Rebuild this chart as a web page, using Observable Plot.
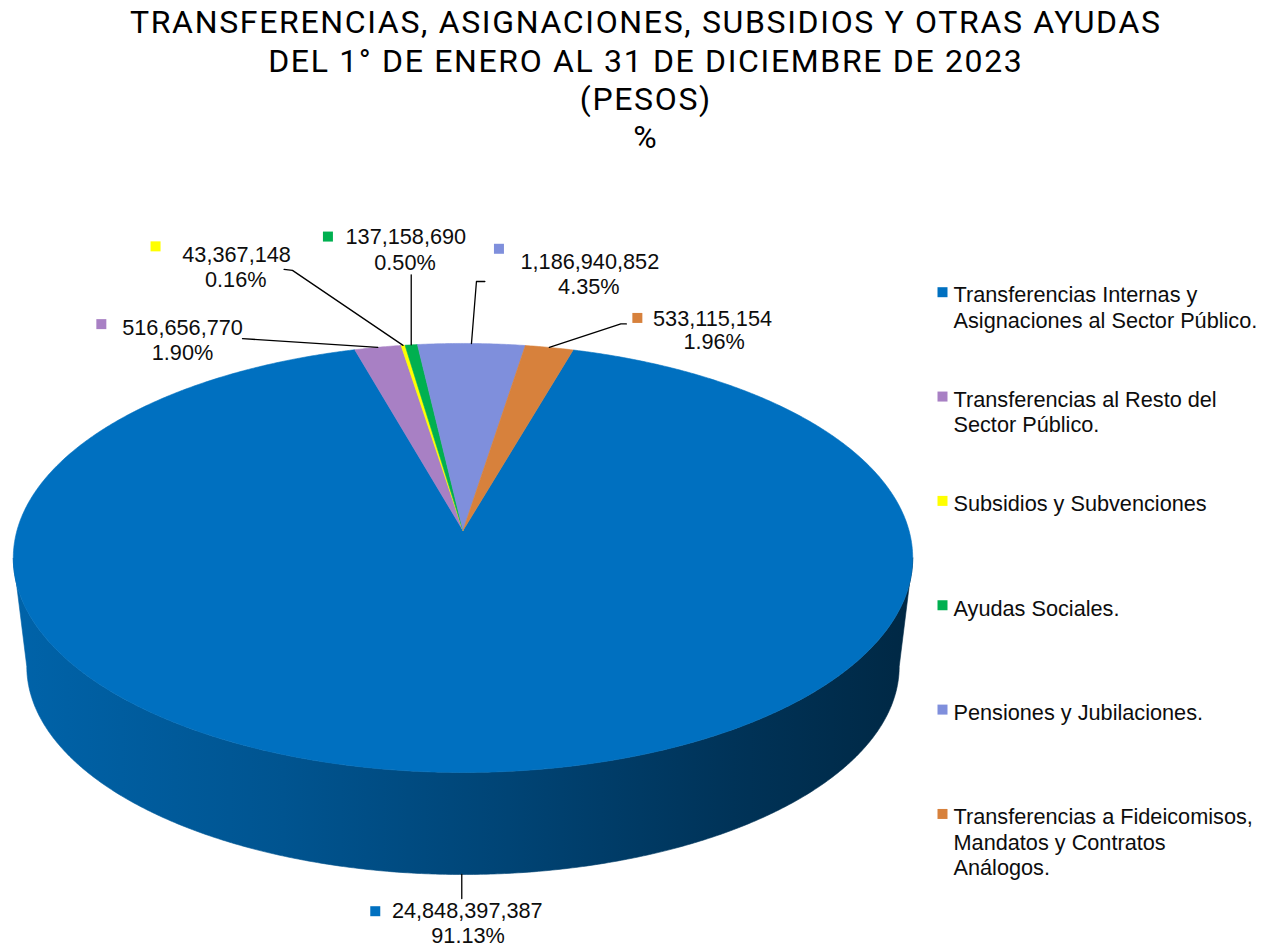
<!DOCTYPE html>
<html><head><meta charset="utf-8">
<script src="https://cdn.jsdelivr.net/npm/d3@7"></script>
<script src="https://cdn.jsdelivr.net/npm/@observablehq/plot@0.6"></script>
<style>
html,body{margin:0;padding:0;background:#fff;}
#wrap{position:relative;width:1269px;height:947px;overflow:hidden;background:#fff;}
#title{position:absolute;left:0;top:0;width:1290px;height:150px;font-family:"Liberation Sans Narrow","Roboto",sans-serif;font-size:32px;color:#000;}
#title div{position:absolute;left:0;width:100%;text-align:center;white-space:nowrap;line-height:32px;}
#chart{position:absolute;left:0;top:150px;}
#chart text{font-family:"Liberation Sans", Arial, sans-serif;}
</style></head>
<body><div id="wrap"><div id="title"></div><div id="chart"></div></div>
<script>
// ---- data ----
const titleLines = [
  "TRANSFERENCIAS, ASIGNACIONES, SUBSIDIOS Y OTRAS AYUDAS",
  "DEL 1° DE ENERO AL 31 DE DICIEMBRE DE 2023",
  "(PESOS)",
  "%"
];
const categories = [
  "Transferencias Internas y\nAsignaciones al Sector Público.",
  "Transferencias al Resto del\nSector Público.",
  "Subsidios y Subvenciones",
  "Ayudas Sociales.",
  "Pensiones y Jubilaciones.",
  "Transferencias a Fideicomisos,\nMandatos y Contratos\nAnálogos."
];
const values = [24848397387, 516656770, 43367148, 137158690, 1186940852, 533115154];
const percentLabels = ["91.13%", "1.90%", "0.16%", "0.50%", "4.35%", "1.96%"];
const colors = ["#0070c0", "#a880c4", "#ffff00", "#00b050", "#7f8fdc", "#d7813c"];

// ---- layout (style only) ----
const W = 1269, H = 947, TOP = 150;
const CX = 462.5, CY = 530, SX = 446, SY = 211, P = 0.128;   // top face (perspective)
const CYB = 639.3, MB = 0.97;                                  // bottom face
const START_ANGLE = 16.1;                                      // degrees clockwise from 12 o'clock
const FONT = "'Liberation Sans', Arial, sans-serif";
const FS = 21.7;
const labelLayout = [
  {lead: [[0,0],[0,24]], value: [5.5,37], pct: [6.3,61.5], key: [-86.5,36.7]},
  {lead: [[0,0],[-135.3,-8.7]], value: [-195.3,-19.3], pct: [-195.3,6], key: [-276.5,-23.2]},
  {lead: [[0,0],[-110.6,-75],[-119,-76]], value: [-166.5,-90], pct: [-167.3,-65], key: [-247.5,-99]},
  {lead: [[0,0],[0,-70]], value: [-5.4,-108.3], pct: [-6.2,-82.3], key: [-83.3,-108.3]},
  {lead: [[0,0],[5,-62],[13.4,-62]], value: [118.4,-81.3], pct: [117.4,-56.3], key: [27.5,-94.7]},
  {lead: [[0,0],[71.5,-23.5],[77,-23.5]], value: [163.2,-28.7], pct: [164.8,-5.3], key: [88,-29.5]}
];
const legendX = 942, legendTextX = 953, legendY0 = 291.7, legendStep = 104.35;

// ---- title ----
const titleEl = document.getElementById("title");
const lineTops = [5.5, 44.5, 82.5, 120.5];
titleLines.forEach((t, i) => {
  const d = document.createElement("div");
  d.textContent = t;
  d.style.top = lineTops[i] + "px";
  titleEl.appendChild(d);
});
(function(){
  const probe = document.createElement("span");
  probe.textContent = titleLines[0];
  probe.style.cssText = "position:absolute;visibility:hidden;white-space:nowrap;font:inherit;";
  titleEl.appendChild(probe);
  const w = probe.getBoundingClientRect().width;
  titleEl.removeChild(probe);
  const ls = Math.max(0, (1030 - w) / (titleLines[0].length - 1));
  titleEl.querySelectorAll("div").forEach(d => { d.style.letterSpacing = ls + "px"; d.style.paddingLeft = ls + "px"; d.style.boxSizing="border-box"; });
})();

// ---- pie geometry ----
function proj(deg, bottom) {
  const t = deg * Math.PI / 180;
  const u = Math.sin(t), v = -Math.cos(t);
  const k = 1 / (1 - P * v);
  const xs = u * k, ys = v * k;
  return bottom ? [CX + MB * SX * xs, CYB + MB * SY * ys] : [CX + SX * xs, CY + SY * ys];
}
function rim(a0, a1, bottom) {
  const n = Math.max(2, Math.ceil((a1 - a0) / 0.4));
  return d3.range(n + 1).map(k => proj(a0 + (a1 - a0) * k / n, bottom));
}
const total = d3.sum(values);
let acc = START_ANGLE;
const slices = values.map((v, i) => {
  const a0 = acc, a1 = acc + v / total * 360;
  acc = a1;
  return {i, a0, a1, color: colors[i]};
});
const VIS0 = Math.acos(-P) * 180 / Math.PI, VIS1 = 360 - VIS0;

const marks = [];
const gradients = [];
slices.forEach(s => {
  [-1, 0, 1].forEach(k => {
    const lo = Math.max(s.a0, VIS0 + 360 * k), hi = Math.min(s.a1, VIS1 + 360 * k);
    if (hi > lo) {
      const poly = rim(lo, hi, false).concat(rim(lo, hi, true).reverse());
      poly.push(poly[0]);
      const id = `side${s.i}_${k + 1}`;
      const xl = proj(VIS1, false)[0], xr = proj(VIS0, false)[0];
      gradients.push({id, color: s.color, x1: xl, x2: xr});
      marks.push(Plot.line(poly, {x: d => d[0], y: d => d[1], fill: `url(#${id})`, stroke: `url(#${id})`, strokeWidth: 0.6}));
    }
  });
});
slices.forEach(s => {
  const poly = [[CX, CY]].concat(rim(s.a0, s.a1, false));
  poly.push([CX, CY]);
  marks.push(Plot.line(poly, {x: d => d[0], y: d => d[1], fill: s.color, stroke: s.color, strokeWidth: 0.6}));
});
const fmt = d3.format(",");
const leaders = [], valueTexts = [], pctTexts = [], keys = [];
slices.forEach(s => {
  const m = (s.a0 + s.a1) / 2;
  const mn = ((m % 360) + 360) % 360;
  const front = mn > VIS0 && mn < VIS1;
  const [ax, ay] = proj(m, front);
  const L = labelLayout[s.i];
  L.lead.forEach(([dx, dy]) => leaders.push({x: ax + dx, y: ay + dy, g: s.i}));
  valueTexts.push({x: ax + L.value[0], y: ay + L.value[1], text: fmt(values[s.i])});
  pctTexts.push({x: ax + L.pct[0], y: ay + L.pct[1], text: percentLabels[s.i]});
  keys.push({x: ax + L.key[0], y: ay + L.key[1], color: s.color});
});
marks.push(Plot.line(leaders, {x: "x", y: "y", z: "g", stroke: "#000", strokeWidth: 1.3}));
marks.push(Plot.dot(keys, {x: "x", y: "y", symbol: "square", r: Math.sqrt(100 / Math.PI), fill: "color", stroke: null}));
marks.push(Plot.text(valueTexts, {x: "x", y: "y", text: "text", fontSize: FS, fontFamily: FONT, fill: "#0d0d0d"}));
marks.push(Plot.text(pctTexts, {x: "x", y: "y", text: "text", fontSize: FS, fontFamily: FONT, fill: "#0d0d0d"}));
const legend = categories.map((c, i) => ({y: legendY0 + i * legendStep, text: c, color: colors[i]}));
marks.push(Plot.dot(legend, {x: () => legendX, y: "y", symbol: "square", r: Math.sqrt(100 / Math.PI), fill: "color", stroke: null}));
marks.push(Plot.text(legend, {x: () => legendTextX, y: d => d.y - 0.355 * FS, text: "text", textAnchor: "start", lineAnchor: "top", lineHeight: 1.166, fontSize: FS, fontFamily: FONT, fill: "#0d0d0d"}));

const svg = Plot.plot({
  width: W, height: H - TOP, margin: 0,
  x: {domain: [0, W], range: [0, W], axis: null},
  y: {domain: [TOP, H], range: [0, H - TOP], axis: null},
  color: {type: "identity"},
  style: {background: "#fff", overflow: "visible", fontFamily: FONT},
  marks
});
const stops = [[0, 0.35], [0.3, 0.8], [0.55, 1.4], [0.8, 2.2], [1, 2.9]];
const defs = gradients.map(g => `<linearGradient id="${g.id}" gradientUnits="userSpaceOnUse" x1="${g.x1}" y1="0" x2="${g.x2}" y2="0">` +
  stops.map(([o, k]) => `<stop offset="${o}" stop-color="${d3.color(g.color).darker(k).formatHex()}"/>`).join("") +
  `</linearGradient>`).join("");
svg.insertAdjacentHTML("afterbegin", `<defs>${defs}</defs>`);
document.getElementById("chart").appendChild(svg);
</script>
</body></html>
